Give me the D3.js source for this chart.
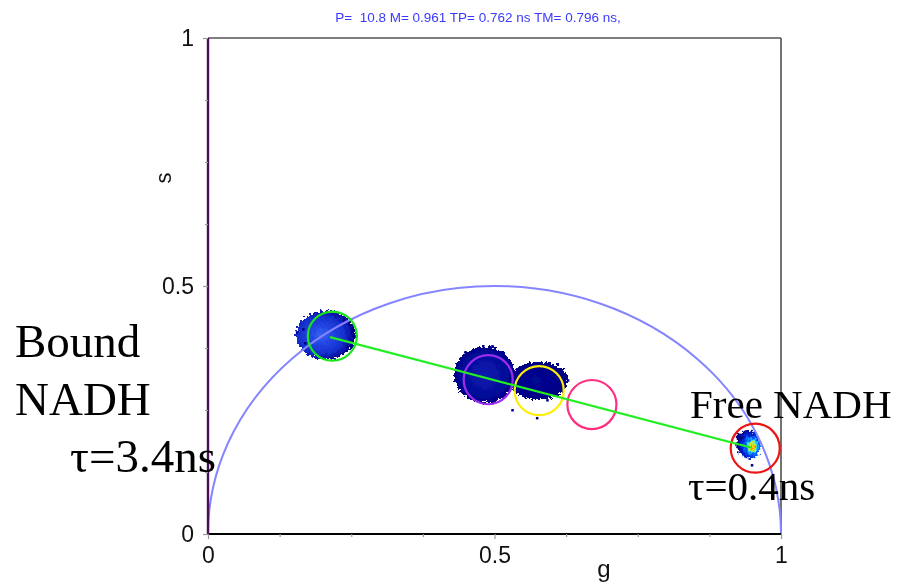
<!DOCTYPE html>
<html>
<head>
<meta charset="utf-8">
<script src="https://cdn.jsdelivr.net/npm/d3@7"></script>
<style>
  html, body { margin: 0; padding: 0; background: #fff; }
  svg { display: block; }
</style>
</head>
<body>
<svg id="chart" width="900" height="584"></svg>
<script>
// Phasor plot of NADH fluorescence lifetime (g, s coordinates)

// Header line of the acquisition
const headerText = "P=  10.8 M= 0.961 TP= 0.762 ns TM= 0.796 ns,";

// Axis ticks
const majorTicks = [0, 0.5, 1];
const majorTickLabels = ["0", "0.5", "1"];
const minorTicks = [0.125, 0.25, 0.375, 0.625, 0.75, 0.875];

// Pixel clusters (phasor histogram blobs): centre and half-extent in g / s
const blobNames = ["bound", "mixA", "mixB", "free"];
const blobG = [0.206, 0.483, 0.577, 0.943];
const blobS = [0.401, 0.321, 0.309, 0.181];
const blobHalfG = [0.052, 0.053, 0.052, 0.021];
const blobHalfS = [0.049, 0.057, 0.038, 0.029];

// Isolated pixels around the clusters
const speckleG = [0.449, 0.480, 0.496, 0.433, 0.574, 0.531, 0.628, 0.592, 0.155, 0.169, 0.166, 0.923, 0.949, 0.928];
const speckleS = [0.367, 0.379, 0.379, 0.310, 0.234, 0.250, 0.310, 0.270, 0.407, 0.385, 0.413, 0.196, 0.139, 0.194];

// Cursor circles
const cursorG = [0.217, 0.489, 0.578, 0.670, 0.955];
const cursorS = [0.399, 0.311, 0.289, 0.261, 0.173];
const cursorR = 0.0428; // radius in g units
const cursorColors = ["#19e619", "#9a2cf0", "#ffee00", "#ff2f7f", "#ee1414"];

// Line joining bound and free NADH
const lineG = [0.213, 0.949];
const lineS = [0.397, 0.174];

// Annotation labels
const annoText = ["Bound", "NADH", "\u03c4=3.4ns", "Free NADH", "\u03c4=0.4ns"];

const svg = d3.select("#chart");
const x = d3.scaleLinear().domain([0, 1]).range([208, 781]);
const y = d3.scaleLinear().domain([0, 1]).range([534, 38]);

const defs = svg.append("defs");

// ragged edges for the pixel clusters
const filt = defs.append("filter").attr("id", "ragged")
  .attr("x", "-30%").attr("y", "-30%").attr("width", "160%").attr("height", "160%");
filt.append("feTurbulence").attr("type", "fractalNoise").attr("baseFrequency", 0.35)
  .attr("numOctaves", 2).attr("seed", 4).attr("result", "noise");
filt.append("feDisplacementMap").attr("in", "SourceGraphic").attr("in2", "noise")
  .attr("scale", 8).attr("xChannelSelector", "R").attr("yChannelSelector", "G");

const gradStops = {
  bound: { cx: 0.42, cy: 0.5, r: 0.55, stops: [[0, "#3664f2"], [0.35, "#2244e2"], [0.7, "#1530cc"], [0.9, "#0a10a6"], [1, "#000080"]] },
  mixA:  { cx: 0.5, cy: 0.5, r: 0.55, stops: [[0, "#0c1cae"], [0.5, "#0610a0"], [0.85, "#02048c"], [1, "#000080"]] },
  mixB:  { cx: 0.45, cy: 0.5, r: 0.55, stops: [[0, "#030894"], [0.7, "#000288"], [1, "#000080"]] },
  free:  { cx: 0.64, cy: 0.6, r: 0.6, stops: [[0, "#ff2000"], [0.1, "#ff8c00"], [0.2, "#f0ee10"], [0.34, "#20e0ff"], [0.5, "#0060ff"], [0.72, "#0020d0"], [1, "#000080"]] }
};
blobNames.forEach(name => {
  const spec = gradStops[name];
  const gr = defs.append("radialGradient").attr("id", "grad-" + name)
    .attr("cx", spec.cx).attr("cy", spec.cy).attr("r", spec.r);
  spec.stops.forEach(s => gr.append("stop").attr("offset", s[0]).attr("stop-color", s[1]));
});

// plot frame (top and right)
svg.append("line").attr("x1", x(0)).attr("x2", x(1)).attr("y1", y(1)).attr("y2", y(1))
  .attr("stroke", "#555").attr("stroke-width", 1.5);
svg.append("line").attr("x1", x(1)).attr("x2", x(1)).attr("y1", y(1)).attr("y2", y(0))
  .attr("stroke", "#444").attr("stroke-width", 1.5);

// clusters
const blobLayer = svg.append("g").attr("filter", "url(#ragged)").attr("shape-rendering", "crispEdges");
blobLayer.selectAll("ellipse").data(blobNames).join("ellipse")
  .attr("cx", (d, i) => x(blobG[i]))
  .attr("cy", (d, i) => y(blobS[i]))
  .attr("rx", (d, i) => x(blobHalfG[i]) - x(0))
  .attr("ry", (d, i) => y(0) - y(blobHalfS[i]))
  .attr("transform", (d, i) => d === "free" ? `rotate(-12 ${x(blobG[i])} ${y(blobS[i])})` : null)
  .attr("fill", d => `url(#grad-${d})`);
svg.append("g").selectAll("rect").data(speckleG).join("rect")
  .attr("x", (d, i) => x(d) - 1).attr("y", (d, i) => y(speckleS[i]) - 1)
  .attr("width", 2.5).attr("height", 2.5).attr("fill", "#000080");

// universal semicircle
const rx = x(0.5) - x(0), ry = y(0) - y(0.5);
svg.append("path")
  .attr("d", `M${x(0)},${y(0)} A${rx},${ry} 0 0 1 ${x(1)},${y(0)}`)
  .attr("fill", "none").attr("stroke", "#8585ff").attr("stroke-width", 2);

// cursor circles
svg.append("g").selectAll("circle").data(cursorG).join("circle")
  .attr("cx", d => x(d)).attr("cy", (d, i) => y(cursorS[i]))
  .attr("r", x(cursorR) - x(0))
  .attr("fill", "none").attr("stroke", (d, i) => cursorColors[i]).attr("stroke-width", 2.2);

// bound-free line
svg.append("path")
  .datum(lineG.map((g, i) => [g, lineS[i]]))
  .attr("d", d3.line().x(d => x(d[0])).y(d => y(d[1])))
  .attr("stroke", "#22ee22").attr("stroke-width", 2.2).attr("fill", "none");

// axes
const tickFont = "'Liberation Sans', Arial, sans-serif";
const xAxis = svg.append("g").attr("transform", `translate(0,${y(0)})`)
  .call(d3.axisBottom(x).tickValues(majorTicks).tickFormat((d, i) => majorTickLabels[i]).tickSize(5).tickPadding(8));
const xMinor = svg.append("g").attr("transform", `translate(0,${y(0)})`)
  .call(d3.axisBottom(x).tickValues(minorTicks).tickFormat("").tickSize(3));
const yAxis = svg.append("g").attr("transform", `translate(${x(0)},0)`)
  .call(d3.axisLeft(y).tickValues(majorTicks).tickFormat((d, i) => majorTickLabels[i]).tickSize(5).tickPadding(9));
const yMinor = svg.append("g").attr("transform", `translate(${x(0)},0)`)
  .call(d3.axisLeft(y).tickValues(minorTicks).tickFormat("").tickSize(3));

[xAxis, xMinor, yAxis, yMinor].forEach(a => {
  a.selectAll(".tick line").attr("stroke", "#999").attr("stroke-width", 1.2);
  a.selectAll(".tick text").attr("font-family", tickFont).attr("font-size", 23).attr("fill", "#111");
});
xAxis.select(".domain").attr("stroke", "#000").attr("stroke-width", 2.2).attr("d", `M${x(0)},0H${x(1)}`);
yAxis.select(".domain").attr("stroke", "#4a0f55").attr("stroke-width", 2.4).attr("d", `M0,${y(1)}V${y(0)}`);
xMinor.select(".domain").remove();
yMinor.select(".domain").remove();

// axis titles
svg.append("text").attr("x", 604).attr("y", 577).attr("text-anchor", "middle")
  .attr("font-family", tickFont).attr("font-size", 24).attr("fill", "#111").text("g");
svg.append("text").attr("transform", "translate(171,178) rotate(-90)").attr("text-anchor", "middle")
  .attr("font-family", tickFont).attr("font-size", 22).attr("fill", "#111").text("s");

// header
svg.append("text").attr("x", 478).attr("y", 22).attr("text-anchor", "middle")
  .attr("font-family", tickFont).attr("font-size", 13.5).attr("fill", "#3a3aff")
  .style("white-space", "pre").text(headerText);

// annotations: bound label on the left, free label on the right
const annoLayout = [
  { x: 15, y: 357, size: 47 },
  { x: 15, y: 415, size: 47 },
  { x: 70, y: 472, size: 47 },
  { x: 690, y: 418, size: 41 },
  { x: 688, y: 500, size: 41 }
];
svg.append("g").selectAll("text").data(annoText).join("text")
  .attr("x", (d, i) => annoLayout[i].x).attr("y", (d, i) => annoLayout[i].y)
  .attr("font-family", "'Liberation Serif', 'Times New Roman', serif")
  .attr("font-size", (d, i) => annoLayout[i].size).attr("fill", "#000").text(d => d);
</script>
</body>
</html>
